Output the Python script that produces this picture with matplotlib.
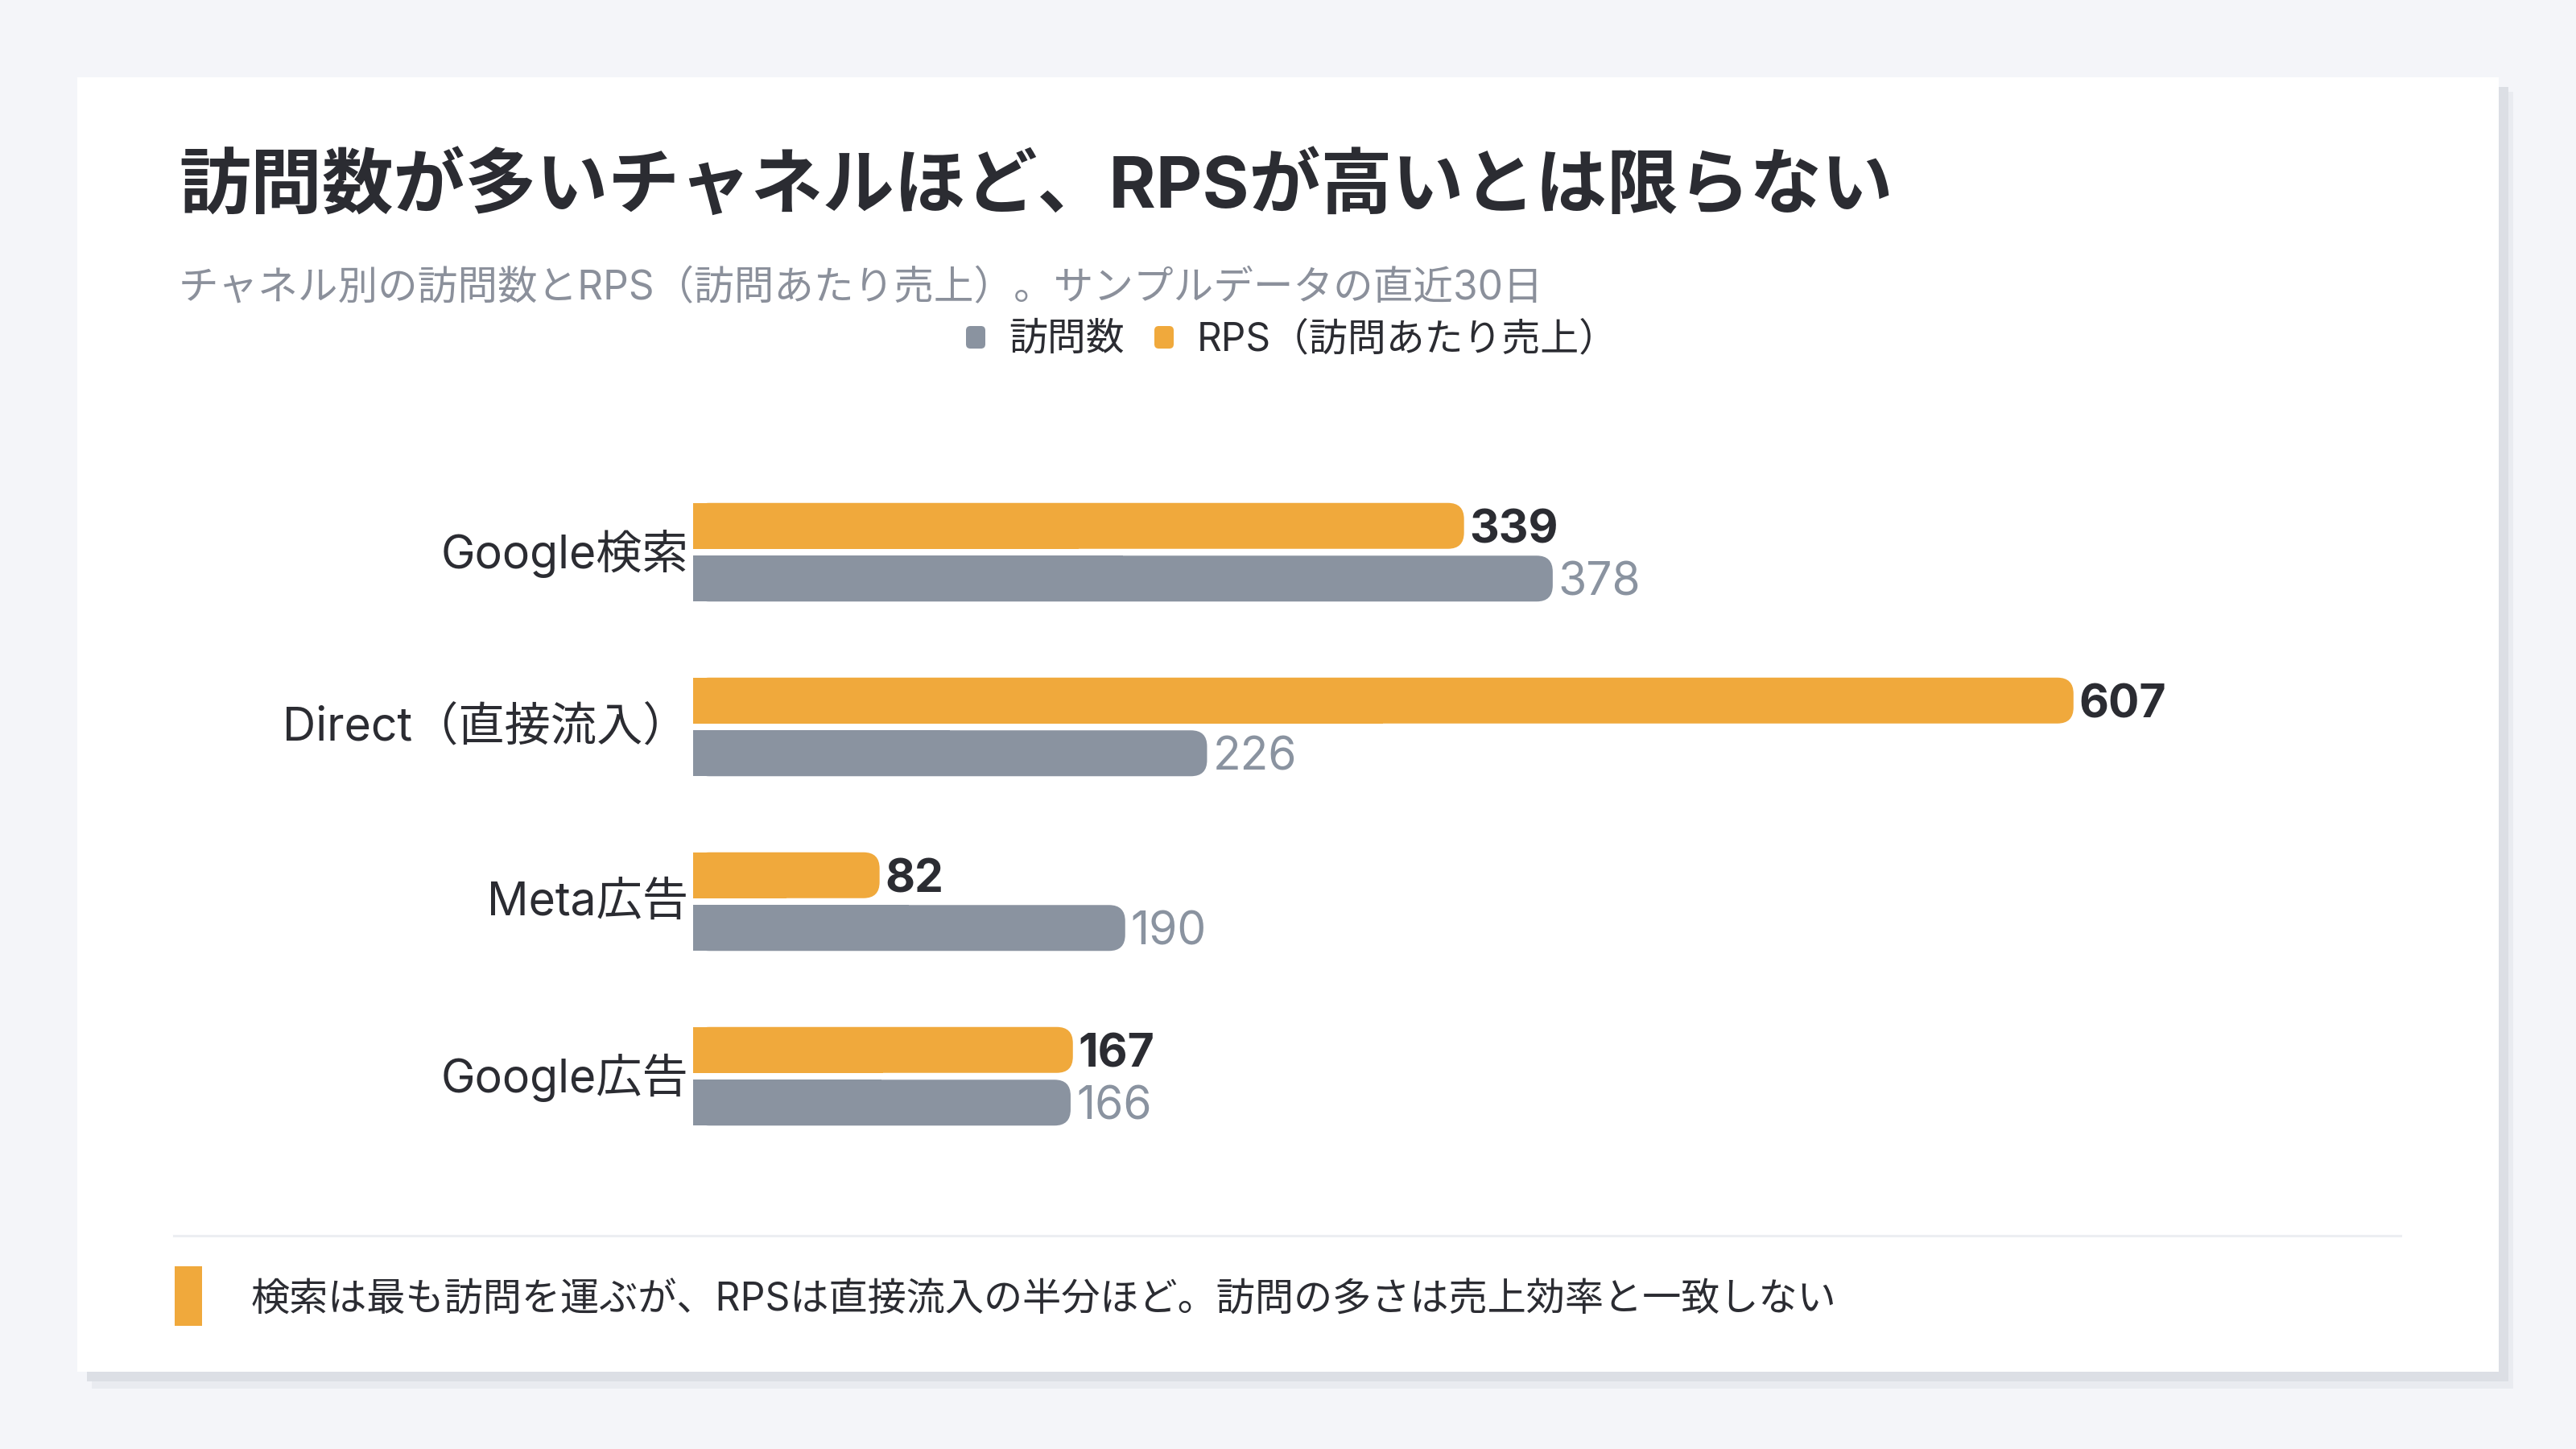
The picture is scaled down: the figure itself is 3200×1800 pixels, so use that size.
import matplotlib
matplotlib.use('Agg')
from matplotlib import pyplot as plt
from matplotlib.patches import Rectangle, FancyBboxPatch
from matplotlib.transforms import ScaledTranslation

W = 3200
H = 1800

channels = ['Google検索', 'Direct（直接流入）', 'Meta広告', 'Google広告']
visits = [378, 226, 190, 166]
rps = [339, 607, 82, 167]

title = '訪問数が多いチャネルほど、RPSが高いとは限らない'
subtitle = 'チャネル別の訪問数とRPS（訪問あたり売上）。サンプルデータの直近30日'
legend_labels = ['訪問数', 'RPS（訪問あたり売上）']
note = '検索は最も訪問を運ぶが、RPSは直接流入の半分ほど。訪問の多さは売上効率と一致しない'

orange = '#f0a93c'
gray = '#8a93a0'
dark = '#2b2c32'
sub_gray = '#8b909b'

fonts = ['Inter', 'Noto Sans CJK JP', 'DejaVu Sans']
plt.rcParams['font.family'] = fonts


def fx(x):
    return x / W


def fy(y):
    return 1 - y / H


def px_rect(fig, x0, y0, x1, y1, color, z=-10):
    fig.patches.append(Rectangle((fx(x0), fy(y1)), (x1 - x0) / W, (y1 - y0) / H,
                                 transform=fig.transFigure, facecolor=color,
                                 edgecolor='none', zorder=z))


fig = plt.figure(figsize=(32, 18), dpi=100)
fig.patch.set_facecolor('#f4f5f9')

# card + soft shadow
px_rect(fig, 114, 114, 3122, 1725, '#e9ebf0', -12)
px_rect(fig, 108, 108, 3116, 1716, '#dcdfe5', -11)
px_rect(fig, 96, 96, 3104, 1704, '#ffffff', -10)

fig.text(fx(222), fy(233), title, fontsize=64, fontweight='bold', color=dark,
         ha='left', va='center')
fig.text(fx(222), fy(359), subtitle, fontsize=35.7, color=sub_gray,
         ha='left', va='center')

# legend
for (mx, tx, lab, col) in [(1212, 1253, legend_labels[0], gray),
                           (1446, 1487, legend_labels[1], orange)]:
    fig.patches.append(FancyBboxPatch((fx(mx - 12), fy(419 + 14)), 24 / W, 28 / H,
                                      boxstyle='round,pad=0,rounding_size=0.0017',
                                      transform=fig.transFigure, facecolor=col,
                                      edgecolor='none', zorder=5,
                                      mutation_aspect=W / H))
    fig.text(fx(tx), fy(422), lab, fontsize=34.5, color=dark, ha='left', va='center')

# bars
ax_top = 577.5
ax_bot = 1445.5
ax_left = 861
xmax = 700
ax_w = 1977.5
ax = fig.add_axes([fx(ax_left), fy(ax_bot), ax_w / W, (ax_bot - ax_top) / H])
ax.set_xlim(0, xmax)
ax.set_ylim(len(channels) - 0.5, -0.5)
ax.patch.set_alpha(0)
for s in ax.spines.values():
    s.set_visible(False)
ax.set_xticks([])
ax.set_yticks(range(len(channels)))
ax.set_yticklabels(channels, fontsize=41.2, color=dark)
ax.tick_params(axis='y', length=0, pad=4)
# nudge category labels up a few pixels
shift = ScaledTranslation(0, 4 / 100, fig.dpi_scale_trans)
for lbl in ax.get_yticklabels():
    lbl.set_transform(lbl.get_transform() + shift)

unit_per_px_x = xmax / ax_w
unit_per_px_y = len(channels) / (ax_bot - ax_top)
bar_h = 57 * unit_per_px_y
off = 32.75 * unit_per_px_y
r = 20 * unit_per_px_x
aspect = unit_per_px_y / unit_per_px_x

for i in range(len(channels)):
    for val, yc, col, weight, tcol in [(rps[i], i - off, orange, 'bold', dark),
                                       (visits[i], i + off, gray, 'normal', gray)]:
        ax.barh(yc, val / 2, height=bar_h, color=col, linewidth=0)
        ax.add_patch(FancyBboxPatch((0, yc - bar_h / 2), val, bar_h,
                                    boxstyle='round,pad=0,rounding_size=%f' % r,
                                    mutation_aspect=aspect,
                                    facecolor=col, edgecolor='none'))
        ax.annotate(str(val), (val, yc), xytext=(5, -4.3), textcoords='offset points',
                    ha='left', va='center', fontsize=41, fontweight=weight, color=tcol)

# footer
fig.lines.append(plt.Line2D([fx(216), fx(2982)], [fy(1535), fy(1535)],
                            transform=fig.transFigure, color='#eceef2', linewidth=2.2))
px_rect(fig, 217, 1573, 251, 1647, orange, 5)
fig.text(fx(312), fy(1616), note, fontsize=34.7, color=dark, ha='left', va='center')

plt.savefig('out.png', dpi=100)
